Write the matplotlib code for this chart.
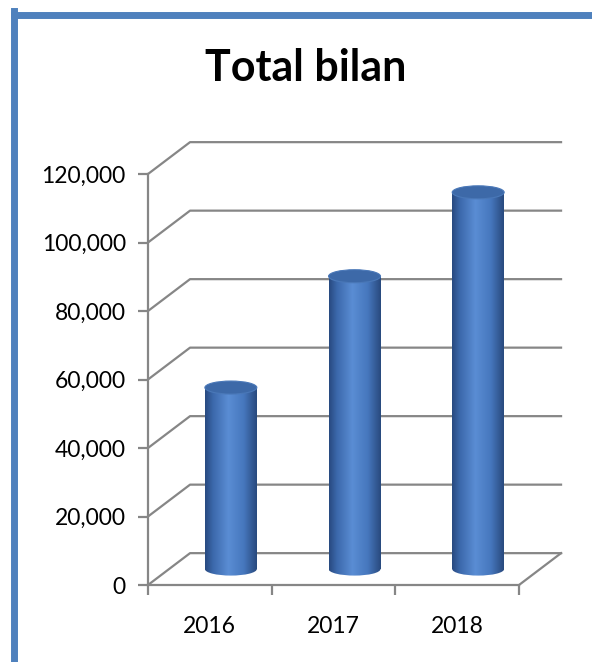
import numpy as np
import matplotlib
matplotlib.use('Agg')
import matplotlib.pyplot as plt
from matplotlib.patches import Ellipse, Rectangle
from matplotlib.colors import LinearSegmentedColormap
from matplotlib.lines import Line2D

years = ['2016', '2017', '2018']
totals = [53000, 85500, 110000]
yticks = [0, 20000, 40000, 60000, 80000, 100000, 120000]
ytick_labels = ['0', '20,000', '40,000', '60,000', '80,000', '100,000', '120,000']

grid_col = '#868686'
depth_x = 0.34      # depth offset in category units
depth_y = 9300      # depth offset in value units
bar_w = 0.42
ell_h = 3800

plt.rcParams['font.family'] = ['Lato', 'DejaVu Sans']

fig = plt.figure(figsize=(5.92, 6.62), dpi=100)
ax = fig.add_axes([148/592, 77/662, 371/592, 411/662])
ax.set_xlim(0, 3)
ax.set_ylim(0, 120000)
ax.patch.set_visible(False)
for s in ['top', 'right']:
    ax.spines[s].set_visible(False)
for s in ['left', 'bottom']:
    ax.spines[s].set_color(grid_col)
    ax.spines[s].set_linewidth(1.6)

ax.set_yticks(yticks)
ax.set_yticklabels(ytick_labels, fontsize=16.5)
ax.set_xticks([0, 1, 2, 3])
ax.set_xticklabels([])
ax.set_xticks([0.5, 1.5, 2.5], minor=True)
ax.set_xticklabels(years, minor=True, fontsize=16.5)
ax.tick_params(axis='both', which='major', color=grid_col, width=1.6, length=7)
ax.tick_params(axis='y', pad=9)
ax.tick_params(axis='x', which='minor', length=0, pad=22)

# back wall gridlines and floor
for v in yticks:
    ax.plot([0, depth_x, 3 + depth_x], [v, v + depth_y, v + depth_y],
            color=grid_col, lw=1.6, clip_on=False, zorder=1)
ax.plot([3, 3 + depth_x], [0, depth_y], color=grid_col, lw=1.6, clip_on=False, zorder=1)

cmap = LinearSegmentedColormap.from_list('cyl', [
    (0.0, '#284a80'), (0.15, '#3b68ab'), (0.45, '#5a8dd4'),
    (0.75, '#4677bd'), (1.0, '#294a7e')])
grad = np.linspace(0, 1, 200).reshape(1, -1)

for i, val in enumerate(totals):
    cx = i + 0.5 + depth_x / 2
    base = depth_y / 2
    top = val + depth_y / 2
    x0, x1 = cx - bar_w / 2, cx + bar_w / 2
    body = Rectangle((x0, base), bar_w, top - base, transform=ax.transData)
    bottom = Ellipse((cx, base), bar_w, ell_h, transform=ax.transData)
    for clip in (body, bottom):
        im = ax.imshow(grad, cmap=cmap, aspect='auto', extent=[x0, x1, base - ell_h, top],
                       zorder=3, clip_on=True)
        im.set_clip_path(clip)
    ax.add_patch(Ellipse((cx, top), bar_w, ell_h, facecolor='#3d69a8',
                         edgecolor='#4a78b8', lw=0.8, zorder=4, clip_on=False))

ax.set_xlim(0, 3)
ax.set_ylim(0, 120000)

fig.text(306/592, 1 - 68/662, 'Total bilan', fontsize=31, fontweight='bold',
         ha='center', va='center')

# chart border (top and left visible)
fig.add_artist(Line2D([14/592, 1], [1 - 14.5/662, 1 - 14.5/662], transform=fig.transFigure,
                      color='#4f81bd', lw=5))
fig.add_artist(Line2D([14/592, 14/592], [0, 1 - 11/662], transform=fig.transFigure,
                      color='#4f81bd', lw=5))

fig.savefig('out.png', dpi=100)
